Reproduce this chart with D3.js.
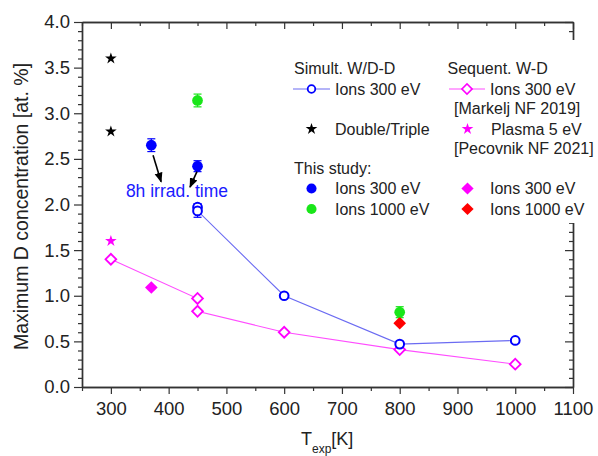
<!DOCTYPE html>
<html>
<head>
<meta charset="utf-8">
<script src="https://cdn.jsdelivr.net/npm/d3@7"></script>
<style>
  html, body { margin: 0; padding: 0; background: #fff; }
  svg { display: block; font-family: "Liberation Sans", Arial, sans-serif; }
</style>
</head>
<body>
<svg id="chart" width="598" height="456"></svg>
<script>
// Axis tick values
const xTicksMajor = [300, 400, 500, 600, 700, 800, 900, 1000, 1100];
const xTicksMinor = [250, 350, 450, 550, 650, 750, 850, 950, 1050];
const yTicksMajor = [0, 0.5, 1.0, 1.5, 2.0, 2.5, 3.0, 3.5, 4.0];

// Simultaneous W/D-D, ions 300 eV (open circles, joined)
const simultT = [450, 450, 600, 800, 1000];
const simultD = [1.97, 1.93, 1.00, 0.47, 0.51];
const simultErr = [0.04, 0.07, 0, 0, 0];

// Sequential W-D, ions 300 eV [Markelj NF 2019] (open diamonds, joined)
const sequentT = [300, 450, 450, 600, 800, 1000];
const sequentD = [1.40, 0.97, 0.83, 0.60, 0.41, 0.25];

// Double/Triple (black stars)
const doubleT = [300, 300];
const doubleD = [3.60, 2.80];

// Plasma 5 eV [Pecovnik NF 2021] (magenta star)
const plasmaT = [300];
const plasmaD = [1.60];

// This study: ions 300 eV, simultaneous (blue dots)
const study300T = [370, 450];
const study300D = [2.65, 2.42];
const study300Err = [0.07, 0.06];

// This study: ions 1000 eV, simultaneous (green dots)
const study1000T = [450, 800];
const study1000D = [3.14, 0.82];
const study1000Err = [0.07, 0.06];

// This study: ions 300 eV, sequential (magenta diamond)
const studySeq300T = [370];
const studySeq300D = [1.09];

// This study: ions 1000 eV, sequential (red diamond)
const studySeq1000T = [800];
const studySeq1000D = [0.70];

// "8h irrad. time" note and its arrows, in data units
const noteText = "8h irrad. time";
const notePos = [326, 2.08];
const noteArrows = [
  [[373, 2.54], [387, 2.25]],
  [[449, 2.36], [437, 2.19]]
];

const svg = d3.select("#chart");
const plotL = 82, plotR = 573, plotT = 22, plotB = 387;

const x = d3.scaleLinear().domain([250, 1100]).range([plotL, plotR]);
const y = d3.scaleLinear().domain([0, 4]).range([plotB, plotT]);

const BLUE = "#0000ff", GREEN = "#19e619", MAGENTA = "#ff00ff", RED = "#ff0000";
const AXIS = "#333";
const textColor = "#222";

// ---- axes ----
const yMinor = d3.range(0, 4.0001, 0.1).filter(v => Math.abs(v * 2 - Math.round(v * 2)) > 1e-6);

function styleAxis(g) {
  g.selectAll("path.domain").attr("stroke", AXIS).attr("stroke-width", 1.4);
  g.selectAll(".tick line").attr("stroke", AXIS).attr("stroke-width", 1.2);
  g.selectAll(".tick text").attr("fill", textColor).style("font-size", "18.5px")
    .style("font-family", "'Liberation Sans', Arial, sans-serif");
}

// bottom
svg.append("g").attr("transform", `translate(0,${plotB})`)
  .call(d3.axisBottom(x).tickValues(xTicksMajor).tickSize(7).tickSizeOuter(0).tickPadding(8).tickFormat(d3.format("d")))
  .call(styleAxis);
svg.append("g").attr("transform", `translate(0,${plotB})`)
  .call(d3.axisBottom(x).tickValues(xTicksMinor).tickSize(4).tickSizeOuter(0).tickFormat(""))
  .call(styleAxis);
// top (inward)
svg.append("g").attr("transform", `translate(0,${plotT})`)
  .call(d3.axisTop(x).tickValues(xTicksMajor).tickSize(-7).tickSizeOuter(0).tickFormat(""))
  .call(styleAxis);
svg.append("g").attr("transform", `translate(0,${plotT})`)
  .call(d3.axisTop(x).tickValues(xTicksMinor).tickSize(-4).tickSizeOuter(0).tickFormat(""))
  .call(styleAxis);
// left
svg.append("g").attr("transform", `translate(${plotL},0)`)
  .call(d3.axisLeft(y).tickValues(yTicksMajor).tickSize(8).tickSizeOuter(0).tickPadding(4).tickFormat(d3.format(".1f")))
  .call(styleAxis);
svg.append("g").attr("transform", `translate(${plotL},0)`)
  .call(d3.axisLeft(y).tickValues(yMinor).tickSize(4).tickSizeOuter(0).tickFormat(""))
  .call(styleAxis);
// right (inward)
svg.append("g").attr("transform", `translate(${plotR},0)`)
  .call(d3.axisRight(y).tickValues(yTicksMajor).tickSize(-8).tickSizeOuter(0).tickFormat(""))
  .call(styleAxis);
svg.append("g").attr("transform", `translate(${plotR},0)`)
  .call(d3.axisRight(y).tickValues(yMinor).tickSize(-4).tickSizeOuter(0).tickFormat(""))
  .call(styleAxis);

// axis titles
svg.append("text")
  .attr("transform", `translate(28,${(plotT + plotB) / 2 + 2}) rotate(-90)`)
  .attr("text-anchor", "middle").attr("fill", textColor)
  .style("font-size", "19.5px")
  .text("Maximum D concentration [at. %]");

const xt = svg.append("text").attr("x", 301).attr("y", 445)
  .attr("fill", textColor).style("font-size", "18px");
xt.append("tspan").text("T");
xt.append("tspan").attr("dy", 8).style("font-size", "12px").text("exp");
xt.append("tspan").attr("dy", -8).text("[K]");

// ---- helpers ----
const sym = (type, size) => d3.symbol().type(type).size(size)();
const pts = (xs, ys) => xs.map((t, i) => ({ t, v: ys[i] }));

function errorBars(xs, ys, errs, color) {
  const data = xs.map((t, i) => ({ t, v: ys[i], e: errs[i] })).filter(d => d.e > 0);
  const g = svg.append("g").attr("stroke", color).attr("stroke-width", 1.2).attr("fill", "none");
  data.forEach(d => {
    const cx = x(d.t), y1 = y(d.v + d.e), y2 = y(d.v - d.e);
    g.append("line").attr("x1", cx).attr("x2", cx).attr("y1", y1).attr("y2", y2);
    g.append("line").attr("x1", cx - 4).attr("x2", cx + 4).attr("y1", y1).attr("y2", y1);
    g.append("line").attr("x1", cx - 4).attr("x2", cx + 4).attr("y1", y2).attr("y2", y2);
  });
}

function markers(data, path, opts) {
  svg.append("g").selectAll("path").data(data).join("path")
    .attr("d", path)
    .attr("transform", d => `translate(${x(d.t)},${y(d.v)})${opts.rotate ? " rotate(45)" : ""}`)
    .attr("fill", opts.fill).attr("stroke", opts.stroke || "none")
    .attr("stroke-width", opts.sw || 0);
}

const line = d3.line().x(d => x(d.t)).y(d => y(d.v));

// ---- series lines ----
svg.append("path").datum(pts(sequentT, sequentD)).attr("d", line)
  .attr("fill", "none").attr("stroke", "#ff4dff").attr("stroke-width", 1.1);
svg.append("path").datum(pts(simultT, simultD)).attr("d", line)
  .attr("fill", "none").attr("stroke", "#6b6bf2").attr("stroke-width", 1.1);

// ---- error bars ----
errorBars(simultT, simultD, simultErr, BLUE);
errorBars(study300T, study300D, study300Err, BLUE);
errorBars(study1000T, study1000D, study1000Err, GREEN);

// ---- markers ----
markers(pts(sequentT, sequentD), sym(d3.symbolSquare, 58), { fill: "#fff", stroke: MAGENTA, sw: 1.8, rotate: true });
markers(pts(simultT, simultD), sym(d3.symbolCircle, 60), { fill: "#fff", stroke: BLUE, sw: 2 });
markers(pts(doubleT, doubleD), sym(d3.symbolStar, 42), { fill: "#000" });
markers(pts(plasmaT, plasmaD), sym(d3.symbolStar, 42), { fill: MAGENTA });
markers(pts(studySeq300T, studySeq300D), sym(d3.symbolSquare, 80), { fill: MAGENTA, rotate: true });
markers(pts(studySeq1000T, studySeq1000D), sym(d3.symbolSquare, 80), { fill: RED, rotate: true });
markers(pts(study300T, study300D), sym(d3.symbolCircle, 90), { fill: BLUE });
markers(pts(study1000T, study1000D), sym(d3.symbolCircle, 90), { fill: GREEN });

// ---- note with arrows ----
const defs = svg.append("defs");
defs.append("marker").attr("id", "arrowHead")
  .attr("viewBox", "0 0 10 10").attr("refX", 9).attr("refY", 5)
  .attr("markerWidth", 10).attr("markerHeight", 10).attr("orient", "auto")
  .attr("markerUnits", "userSpaceOnUse")
  .append("path").attr("d", "M0,1 L10,5 L0,9 Z").attr("fill", "#000");

noteArrows.forEach(([a, b]) => {
  svg.append("line")
    .attr("x1", x(a[0])).attr("y1", y(a[1]))
    .attr("x2", x(b[0])).attr("y2", y(b[1]))
    .attr("stroke", "#000").attr("stroke-width", 1.6)
    .attr("marker-end", "url(#arrowHead)");
});
svg.append("text").attr("x", x(notePos[0])).attr("y", y(notePos[1]))
  .attr("fill", "#1a1aff").style("font-size", "17.5px").text(noteText);

// ---- legend (opaque box over the right frame) ----
svg.append("rect").attr("x", 287).attr("y", 40).attr("width", 311).attr("height", 183)
  .attr("fill", "#fff");

const lg = svg.append("g").attr("fill", textColor).style("font-size", "16px");
const ltext = (tx, ty, s) => lg.append("text").attr("x", tx).attr("y", ty).text(s);
const lsym = (cx, cy, path, fill, stroke, sw, rot) =>
  svg.append("path").attr("d", path)
    .attr("transform", `translate(${cx},${cy})${rot ? " rotate(45)" : ""}`)
    .attr("fill", fill).attr("stroke", stroke || "none").attr("stroke-width", sw || 0);

// column 1
ltext(294, 74, "Simult. W/D-D");
svg.append("line").attr("x1", 293).attr("x2", 330).attr("y1", 89).attr("y2", 89)
  .attr("stroke", "#6b6bf2").attr("stroke-width", 1.1);
lsym(311.5, 89, sym(d3.symbolCircle, 45), "#fff", BLUE, 1.8);
ltext(335, 94.5, "Ions 300 eV");
lsym(311.5, 129, sym(d3.symbolStar, 42), "#000");
ltext(335, 134.5, "Double/Triple");
ltext(294, 174, "This study:");
lsym(311.5, 188.5, sym(d3.symbolCircle, 80), BLUE);
ltext(335, 194, "Ions 300 eV");
lsym(311.5, 209, sym(d3.symbolCircle, 80), GREEN);
ltext(335, 214.5, "Ions 1000 eV");

// column 2
ltext(447.5, 74, "Sequent. W-D");
svg.append("line").attr("x1", 449).attr("x2", 485).attr("y1", 89).attr("y2", 89)
  .attr("stroke", "#ff4dff").attr("stroke-width", 1.1);
lsym(467, 89, sym(d3.symbolSquare, 52), "#fff", MAGENTA, 1.6, true);
ltext(490, 94.5, "Ions 300 eV");
ltext(454, 114, "[Markelj NF 2019]");
lsym(467.5, 129, sym(d3.symbolStar, 42), MAGENTA);
ltext(491, 134.5, "Plasma 5 eV");
ltext(454, 154, "[Pecovnik NF 2021]");
lsym(467.5, 188.5, sym(d3.symbolSquare, 75), MAGENTA, null, 0, true);
ltext(490, 194, "Ions 300 eV");
lsym(467.5, 209, sym(d3.symbolSquare, 75), RED, null, 0, true);
ltext(490, 214.5, "Ions 1000 eV");
</script>
</body>
</html>
